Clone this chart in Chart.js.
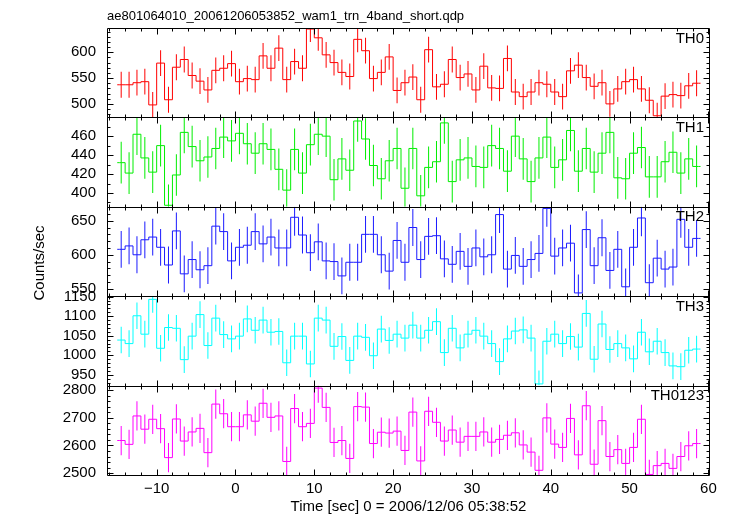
<!DOCTYPE html>
<html>
<head>
<meta charset="utf-8">
<script src="https://cdn.jsdelivr.net/npm/chart.js@4/dist/chart.umd.min.js"></script>
<style>
  html, body { margin: 0; padding: 0; background: #fff; }
  #wrap { position: relative; width: 730px; height: 516px; }
</style>
</head>
<body>
<div id="wrap"><canvas id="lc" width="730" height="516"></canvas></div>
<script>
const TITLE = "ae801064010_20061206053852_wam1_trn_4band_short.qdp";
const X_TITLE = "Time [sec] 0 = 2006/12/06 05:38:52";
const Y_TITLE = "Counts/sec";

const BANDS = ["TH0", "TH1", "TH2", "TH3", "TH0123"];
const COLORS = ["#ff0000", "#00ee00", "#1a1aff", "#00ffff", "#ff00ff"];

// 1-s-Bins, erster Bin beginnt bei -15 s
const BIN_START = -15;
const BIN_WIDTH = 1;

const TH0 = [537, 537, 541, 543, 498, 579, 508, 571, 586, 555, 544, 527, 565, 569, 578, 543, 549, 547, 593, 569,
  608, 547, 582, 569, 645, 628, 595, 580, 561, 553, 625, 603, 549, 561, 591, 526, 541, 552, 508, 605,
  533, 538, 586, 551, 558, 527, 573, 531, 530, 588, 523, 514, 523, 541, 538, 523, 514, 564, 575, 551,
  534, 541, 500, 529, 543, 547, 529, 507, 477, 515, 518, 516, 535, 540];
const TH1 = [432, 421, 462, 437, 422, 450, 387, 419, 464, 449, 434, 438, 447, 459, 455, 463, 452, 442, 452, 446,
  425, 403, 446, 421, 451, 462, 460, 414, 436, 424, 476, 457, 429, 415, 434, 447, 405, 447, 397, 427,
  433, 474, 412, 435, 437, 428, 427, 450, 447, 423, 460, 436, 412, 437, 459, 427, 435, 466, 423, 447,
  422, 442, 464, 416, 415, 442, 448, 417, 417, 433, 443, 421, 436, 428];
const TH2 = [608, 613, 600, 622, 626, 611, 585, 635, 572, 593, 578, 584, 642, 634, 591, 611, 614, 634, 616, 626,
  610, 610, 655, 629, 603, 619, 591, 590, 569, 589, 589, 630, 630, 600, 576, 621, 589, 640, 593, 627,
  628, 594, 586, 605, 583, 610, 597, 600, 659, 579, 599, 583, 593, 602, 668, 598, 610, 617, 544, 637,
  584, 625, 577, 608, 553, 611, 654, 559, 595, 579, 582, 652, 611, 624];
const TH3 = [1039, 1030, 1101, 1054, 1143, 1018, 1071, 1069, 989, 1049, 1104, 1025, 1095, 1053, 1042, 1049, 1093, 1064, 1090, 1059,
  1061, 981, 1049, 1049, 978, 1095, 1090, 1023, 1048, 987, 1049, 1046, 999, 1067, 1038, 1054, 1044, 1077, 1044, 1064,
  1086, 1007, 1069, 1019, 1054, 1064, 1049, 1030, 984, 1042, 1062, 1065, 1044, 927, 1036, 1054, 1030, 1048, 1021, 1107,
  990, 1080, 1015, 1030, 1019, 991, 1059, 1009, 1036, 1007, 973, 971, 1013, 1016];
const TH0123 = [2618, 2604, 2707, 2659, 2695, 2661, 2556, 2696, 2616, 2649, 2662, 2574, 2750, 2715, 2668, 2668, 2711, 2688, 2753, 2702,
  2707, 2542, 2734, 2668, 2680, 2808, 2738, 2611, 2618, 2553, 2741, 2739, 2607, 2648, 2645, 2652, 2582, 2721, 2544, 2724,
  2684, 2616, 2656, 2612, 2633, 2633, 2649, 2612, 2622, 2637, 2646, 2602, 2576, 2510, 2700, 2605, 2593, 2698, 2566, 2744,
  2532, 2690, 2560, 2585, 2535, 2593, 2695, 2495, 2527, 2535, 2517, 2560, 2599, 2607];

// 1-sigma Fehler je Band (ca. konstant)
const ERR = [25, 22, 27, 34, 53];

// Achsen
const X_MIN = -16.3, X_MAX = 60.2;
const X_TICKS = [-10, 0, 10, 20, 30, 40, 50, 60];
const X_MINOR = 2;
const Y_RANGE = [[473.8, 647], [385.4, 479.8], [539.2, 670.4], [922.7, 1151], [2493, 2817]];
const Y_TICKS = [[500, 550, 600], [400, 420, 440, 460], [550, 600, 650], [950, 1000, 1050, 1100, 1150], [2500, 2600, 2700, 2800]];
const Y_MINOR = [10, 10, 10, 10, 20];

const SERIES = [TH0, TH1, TH2, TH3, TH0123];

// --- Helpers ---
const FONT = "'Liberation Sans', Arial, Helvetica, sans-serif";
const binCenters = (n) => Array.from({length: n}, (_, i) => BIN_START + BIN_WIDTH * (i + 0.5));

function stepData(vals) {
  const t = binCenters(vals.length);
  const pts = vals.map((v, i) => ({x: t[i], y: v}));
  // Kanten, damit erster/letzter Bin volle Breite bekommen
  pts.unshift({x: BIN_START, y: vals[0]});
  pts.push({x: BIN_START + BIN_WIDTH * vals.length, y: vals[vals.length - 1]});
  return pts;
}

function errData(vals, err) {
  const t = binCenters(vals.length);
  return vals.map((v, i) => ({x: t[i], y: [v - err, v + err]}));
}

const minus = (v) => v < 0 ? "\u2212" + Math.abs(v) : String(v);

// --- Plugin: Rahmen, Ticks nach innen, Texte, Clip pro Panel ---
const qdpPlugin = {
  id: 'qdpPlugin',
  beforeDatasetDraw(chart, args) {
    const ys = chart.scales[args.meta.yAxisID];
    const a = chart.chartArea;
    chart.ctx.save();
    chart.ctx.beginPath();
    chart.ctx.rect(a.left, ys.top, a.right - a.left, ys.bottom - ys.top);
    chart.ctx.clip();
  },
  afterDatasetDraw(chart) {
    chart.ctx.restore();
  },
  afterDatasetsDraw(chart) {
    const {ctx, chartArea: a, scales} = chart;
    const xs = scales.x;
    const L = Math.round(a.left) + 0.5, R = Math.round(a.right) - 0.5;
    const major = 6, minor = 3;

    ctx.save();
    ctx.strokeStyle = '#000';
    ctx.lineWidth = 1;

    BANDS.forEach((name, p) => {
      const ys = scales['y' + p];
      const T = Math.round(ys.top) + 0.5, B = Math.round(ys.bottom) + 0.5;
      ctx.beginPath();
      ctx.rect(L, T, R - L, B - T);

      // x-Ticks oben/unten
      for (let v = Math.ceil(X_MIN / X_MINOR) * X_MINOR; v <= X_MAX; v += X_MINOR) {
        const px = Math.round(xs.getPixelForValue(v)) + 0.5;
        const len = X_TICKS.includes(v) ? major : minor;
        ctx.moveTo(px, T); ctx.lineTo(px, T + len);
        ctx.moveTo(px, B); ctx.lineTo(px, B - len);
      }
      // y-Ticks links/rechts
      const [lo, hi] = Y_RANGE[p];
      const st = Y_MINOR[p];
      for (let v = Math.ceil(lo / st) * st; v <= hi; v += st) {
        const py = Math.round(ys.getPixelForValue(v)) + 0.5;
        const len = Y_TICKS[p].includes(v) ? major : minor;
        ctx.moveTo(L, py); ctx.lineTo(L + len, py);
        ctx.moveTo(R, py); ctx.lineTo(R - len, py);
      }
      ctx.stroke();

      // Bandname rechts oben
      ctx.fillStyle = '#000';
      ctx.font = `15px ${FONT}`;
      ctx.textAlign = 'right';
      ctx.textBaseline = 'middle';
      ctx.fillText(name, a.right - 6, ys.top + 10.5);
    });

    // Titel
    ctx.fillStyle = '#000';
    ctx.font = `13px ${FONT}`;
    ctx.textAlign = 'left';
    ctx.textBaseline = 'alphabetic';
    ctx.fillText(TITLE, a.left, 20);

    // y-Beschriftung
    ctx.font = `15px ${FONT}`;
    ctx.translate(40, 263);
    ctx.rotate(-Math.PI / 2);
    ctx.textAlign = 'center';
    ctx.textBaseline = 'middle';
    ctx.fillText(Y_TITLE, 0, 0);
    ctx.restore();
  }
};

// --- Chart ---
const datasets = [];
SERIES.forEach((vals, p) => {
  datasets.push({
    type: 'bar',
    data: errData(vals, ERR[p]),
    yAxisID: 'y' + p,
    backgroundColor: COLORS[p],
    borderWidth: 0,
    barThickness: 1,
    inflateAmount: 0,
    grouped: false
  });
  datasets.push({
    type: 'line',
    data: stepData(vals),
    yAxisID: 'y' + p,
    borderColor: COLORS[p],
    borderWidth: 1,
    pointRadius: 0,
    stepped: 'middle',
    fill: false
  });
});

const scales = {
  x: {
    type: 'linear',
    min: X_MIN,
    max: X_MAX,
    offset: false,
    grid: {display: false, drawTicks: false, offset: false},
    border: {display: false},
    afterFit: (s) => { s.height = 41; },
    afterBuildTicks: (s) => { s.ticks = X_TICKS.map(v => ({value: v})); },
    ticks: {
      autoSkip: false,
      maxRotation: 0,
      padding: 5,
      color: '#000',
      font: {family: FONT, size: 15},
      callback: (v) => minus(v)
    },
    title: {
      display: true,
      text: X_TITLE,
      color: '#000',
      font: {family: FONT, size: 15},
      padding: {top: 0, bottom: 0}
    }
  }
};

BANDS.forEach((name, p) => {
  scales['y' + p] = {
    type: 'linear',
    position: 'left',
    stack: 'panels',
    stackWeight: 1,
    weight: BANDS.length - p,
    min: Y_RANGE[p][0],
    max: Y_RANGE[p][1],
    grid: {display: false, drawTicks: false},
    border: {display: false},
    afterFit: (s) => { s.width = 107; },
    afterBuildTicks: (s) => { s.ticks = Y_TICKS[p].map(v => ({value: v})); },
    ticks: {
      autoSkip: false,
      padding: 11,
      color: '#000',
      font: {family: FONT, size: 15},
      callback: (v) => String(v)
    }
  };
});

new Chart(document.getElementById('lc'), {
  type: 'line',
  data: {datasets},
  options: {
    responsive: false,
    devicePixelRatio: 1,
    animation: false,
    layout: {padding: {left: 0, right: 20, top: 28, bottom: 0}},
    plugins: {
      legend: {display: false},
      tooltip: {enabled: false},
      title: {display: false}
    },
    scales
  },
  plugins: [qdpPlugin]
});
</script>
</body>
</html>
